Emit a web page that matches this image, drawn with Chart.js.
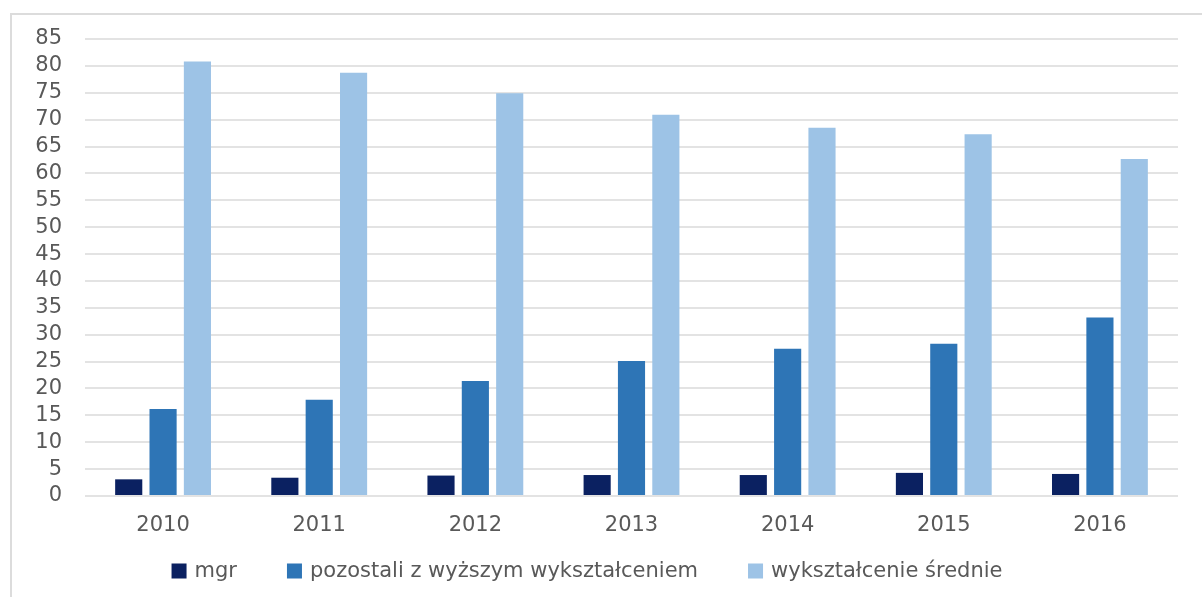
<!DOCTYPE html>
<html>
<head>
<meta charset="utf-8">
<script src="https://cdn.jsdelivr.net/npm/chart.js@4/dist/chart.umd.min.js"></script>
<style>
    html, body { margin: 0; padding: 0; background: #fff; }
    #wrap { position: relative; width: 1202px; height: 597px; }
    #frame {
        position: absolute; left: 10px; top: 13px; right: 0; bottom: 0;
        border-left: 2px solid #dcdcdc; border-top: 2px solid #dcdcdc;
    }
    canvas { position: absolute; left: 0; top: 0; }
</style>
</head>
<body>
<div id="wrap">
    <div id="frame"></div>
    <canvas id="chart" width="1202" height="597"></canvas>
</div>
<script>
const years = ['2010', '2011', '2012', '2013', '2014', '2015', '2016'];
const mgr = [3.1, 3.4, 3.8, 3.9, 3.9, 4.3, 4.1];
const pozostali = [16.2, 17.9, 21.4, 25.1, 27.4, 28.3, 33.2];
const srednie = [80.8, 78.7, 74.9, 70.9, 68.5, 67.3, 62.7];

const textColor = '#595959';
const fontFamily = '"DejaVu Sans", sans-serif';

// legend drawn by hand: excel spaces the items wider than Chart.js padding allows
const bottomLegend = {
    id: 'bottomLegend',
    afterDraw(chart) {
        const ctx = chart.ctx;
        const box = 15, boxGap = 8, itemGap = 50;
        ctx.save();
        ctx.font = '21px ' + fontFamily;
        ctx.textBaseline = 'middle';
        const items = chart.data.datasets.map(ds => ({
            text: ds.label,
            color: ds.backgroundColor,
            w: box + boxGap + ctx.measureText(ds.label).width
        }));
        const total = items.reduce((s, it) => s + it.w, 0) + itemGap * (items.length - 1);
        let x = 587 - total / 2;
        const y = chart.chartArea.bottom + 75;
        items.forEach(it => {
            ctx.fillStyle = it.color;
            ctx.fillRect(x, y - box / 2, box, box);
            ctx.fillStyle = textColor;
            ctx.fillText(it.text, x + box + boxGap, y + 1);
            x += it.w + itemGap;
        });
        ctx.restore();
    }
};

new Chart(document.getElementById('chart'), {
    type: 'bar',
    data: {
        labels: years,
        datasets: [
            { label: 'mgr', data: mgr, backgroundColor: '#0b2161' },
            { label: 'pozostali z wyższym wykształceniem', data: pozostali, backgroundColor: '#2e75b6' },
            { label: 'wykształcenie średnie', data: srednie, backgroundColor: '#9dc3e6' }
        ]
    },
    options: {
        responsive: false,
        animation: false,
        datasets: {
            bar: { categoryPercentage: 0.66, barPercentage: 0.79 }
        },
        layout: { padding: { top: 39, right: 24, bottom: 61, left: 0 } },
        plugins: {
            tooltip: { enabled: false },
            legend: { display: false }
        },
        scales: {
            x: {
                grid: { display: false },
                border: { display: false },
                ticks: {
                    color: textColor,
                    font: { family: fontFamily, size: 21 },
                    padding: 9
                },
                afterFit(scale) { scale.height = 40; }
            },
            y: {
                min: 0,
                max: 85,
                ticks: {
                    stepSize: 5,
                    autoSkip: false,
                    color: textColor,
                    font: { family: fontFamily, size: 21 },
                    padding: 23
                },
                grid: { color: '#e3e3e3', lineWidth: 2, drawTicks: false },
                border: { display: false },
                afterFit(scale) { scale.width = 85; }
            }
        }
    },
    plugins: [bottomLegend]
});
</script>
</body>
</html>
